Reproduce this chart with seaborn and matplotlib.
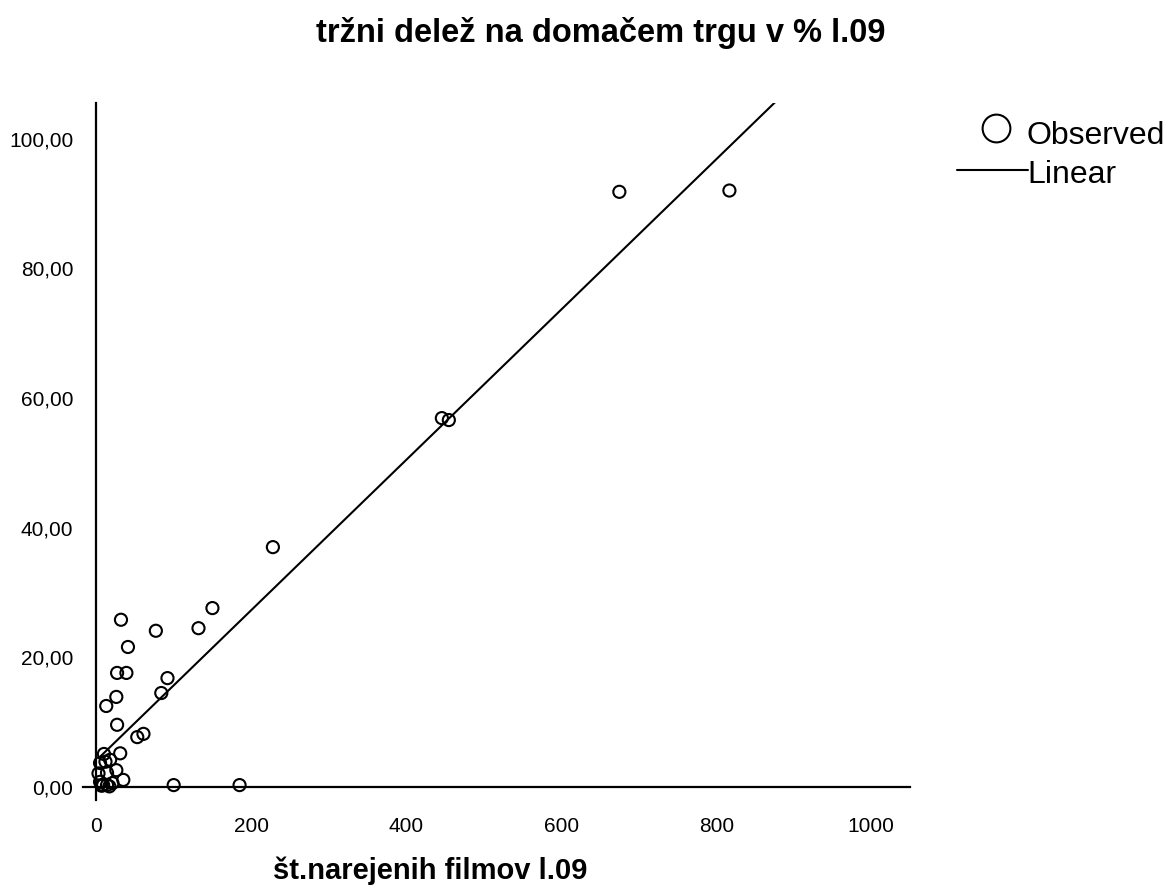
import numpy as np
import pandas as pd
import matplotlib
matplotlib.use("Agg")
import matplotlib.pyplot as plt
from matplotlib.lines import Line2D
import seaborn as sns

# number of films produced in 2009 and domestic market share (%) in 2009
films = [675, 817, 446, 455, 228, 150, 132, 32, 77, 41, 27, 39, 92, 84, 26,
         13, 27, 53, 61, 31, 10, 12, 18, 26, 3, 35, 100, 185,
         5, 9, 14, 21, 17, 7, 14, 5]
share = [91.8, 92.0, 56.9, 56.6, 37.0, 27.6, 24.5, 25.8, 24.1, 21.6, 17.6, 17.6,
         16.8, 14.5, 13.9, 12.5, 9.6, 7.7, 8.2, 5.2, 5.1, 3.9, 4.2, 2.6, 2.1,
         1.1, 0.3, 0.3, 0.8, 0.3, 0.3, 0.6, 0.1, 0.2, 2.2, 3.7]

x_ticks = [0, 200, 400, 600, 800, 1000]
x_tick_labels = ["0", "200", "400", "600", "800", "1000"]
y_ticks = [0, 20, 40, 60, 80, 100]
y_tick_labels = ["0,00", "20,00", "40,00", "60,00", "80,00", "100,00"]

title = "tržni delež na domačem trgu v % l.09"
x_title = "št.narejenih filmov l.09"
legend_labels = ["Observed", "Linear"]

df = pd.DataFrame({"films": films, "share": share})

sns.set_style("white")
plt.rcParams["font.family"] = ["Liberation Sans", "DejaVu Sans"]
plt.rcParams["text.color"] = "black"

W, H = 1168, 885
fig = plt.figure(figsize=(W / 100, H / 100), dpi=100)
ax = fig.add_axes([83 / W, 1 - 800 / H, (910 - 83) / W, (800 - 103) / H])

xlim = (-17, 1050)
ylim = (-2, 105.5)

sns.scatterplot(data=df, x="films", y="share", ax=ax, s=76,
                facecolors="none", edgecolor="black", linewidth=1.5,
                legend=False, zorder=3)

# fit line drawn from the smallest observation out to the right edge
ax.set_xlim(min(films), xlim[1])
sns.regplot(data=df, x="films", y="share", ax=ax, scatter=False, ci=None,
            truncate=False, color="black", line_kws={"lw": 1.5})

ax.set_xlim(*xlim)
ax.set_ylim(*ylim)

for side in ["top", "right"]:
    ax.spines[side].set_visible(False)
ax.spines["left"].set_position(("data", 0))
ax.spines["bottom"].set_position(("data", 0))
for side in ["left", "bottom"]:
    ax.spines[side].set_linewidth(1.6)
    ax.spines[side].set_color("black")

ax.set_xticks(x_ticks)
ax.set_xticklabels(x_tick_labels)
ax.set_yticks(y_ticks)
ax.set_yticklabels(y_tick_labels)
ax.tick_params(axis="both", direction="out", length=9.5, width=1.6,
               colors="black", labelsize=15)
ax.tick_params(axis="x", pad=12)
ax.tick_params(axis="y", pad=7)
ax.set_xlabel("")
ax.set_ylabel("")
ax.grid(False)

fig.text(601 / W, 1 - 33 / H, title, ha="center", va="center",
         fontsize=23.5, fontweight="bold", color="black")
fig.text(430 / W, 6 / H, x_title, ha="center", va="baseline",
         fontsize=21, fontweight="bold", color="black")

# legend
fig.add_artist(Line2D([996 / W], [1 - 128 / H], marker="o", markersize=20,
                      markerfacecolor="none", markeredgecolor="black",
                      markeredgewidth=1.5, linestyle="none"))
fig.text(1027 / W, 1 - 136 / H, legend_labels[0], ha="left", va="center",
         fontsize=23, color="black")
fig.add_artist(Line2D([957 / W, 1028 / W], [1 - 170 / H, 1 - 170 / H],
                      color="black", lw=1.5))
fig.text(1027 / W, 1 - 175 / H, legend_labels[1], ha="left", va="center",
         fontsize=23, color="black")

fig.savefig("out.png", dpi=100, facecolor="white")
